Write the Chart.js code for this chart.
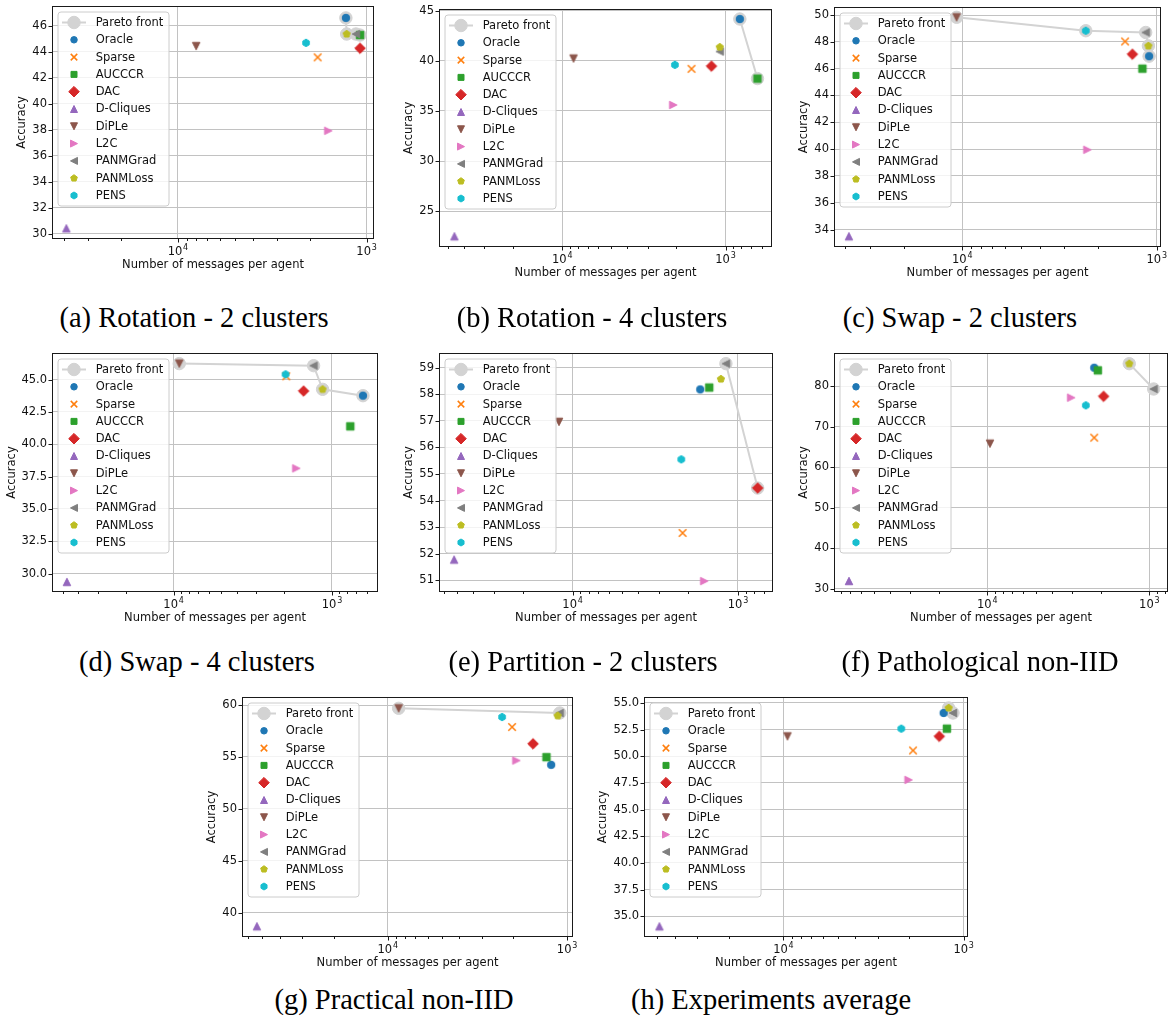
<!DOCTYPE html>
<html><head><meta charset="utf-8">
<script src="https://cdn.jsdelivr.net/npm/chart.js@4.4.0/dist/chart.umd.min.js"></script>
<style>
html,body{margin:0;padding:0;width:1174px;height:1025px;overflow:hidden;background:#fff;}
canvas{position:absolute;}
.cap{position:absolute;font-family:"Liberation Serif","Times New Roman",serif;font-size:28.5px;line-height:1;color:#000;white-space:nowrap;transform:translate(-50%,-50%);}
</style></head><body>
<script>
// ---------------- DATA ----------------
const methods = ['Oracle','Sparse','AUCCCR','DAC','D-Cliques','DiPLe','L2C','PANMGrad','PANMLoss','PENS'];
const captions = ['(a) Rotation - 2 clusters','(b) Rotation - 4 clusters','(c) Swap - 2 clusters','(d) Swap - 4 clusters',
  '(e) Partition - 2 clusters','(f) Pathological non-IID','(g) Practical non-IID','(h) Experiments average'];
const xTitle = 'Number of messages per agent';
const yTitle = 'Accuracy';
const paretoLabel = 'Pareto front';

// messages per agent (method order as in `methods`)
const msgA = [1288, 1817, 1084, 1084, 39000, 8000, 1596, 1140, 1276, 2094];
const accA = [46.62, 43.58, 45.30, 44.28, 30.40, 44.45, 37.92, 45.38, 45.38, 44.70];
const paretoA = ['Oracle','PANMLoss','PANMGrad','AUCCCR'];

const msgB = [817, 1615, 637, 1219, 45800, 8530, 2090, 1084, 1084, 2042];
const accB = [44.17, 39.20, 38.23, 39.47, 22.50, 40.23, 35.60, 40.93, 41.37, 39.60];
const paretoB = ['Oracle','AUCCCR'];

const msgC = [1095, 1455, 1185, 1334, 38300, 10700, 2275, 1140, 1104, 2317];
const accC = [46.93, 48.03, 46.00, 47.08, 33.50, 49.83, 39.95, 48.70, 47.70, 48.83];
const paretoC = ['DiPLe','PENS','PANMGrad','PANMLoss','Oracle'];

const msgD = [637, 1943, 766, 1510, 47200, 9210, 1680, 1306, 1146, 1963];
const accD = [43.76, 45.26, 41.39, 44.12, 29.36, 46.24, 38.14, 46.08, 44.25, 45.41];
const paretoD = ['DiPLe','PANMGrad','PANMLoss','Oracle'];

const msgE = [1692, 2163, 1492, 760, 52100, 12100, 1600, 1183, 1268, 2203];
const accE = [58.18, 52.78, 58.25, 54.47, 51.78, 56.96, 50.97, 59.15, 58.57, 55.55];
const paretoE = ['PANMGrad','DAC'];

const msgF = [2188, 2188, 2078, 1915, 71400, 9630, 3036, 940, 1330, 2465];
const accF = [84.50, 67.27, 83.86, 77.45, 31.97, 65.80, 77.13, 79.26, 85.50, 75.24];
const paretoF = ['PANMLoss','PANMGrad'];

const msgG = [1227, 2026, 1303, 1549, 53600, 8690, 1918, 1099, 1128, 2303];
const accG = [54.24, 57.88, 54.98, 56.27, 38.71, 59.68, 54.66, 59.23, 58.97, 58.84];
const paretoG = ['DiPLe','PANMGrad'];

const msgH = [1291, 1910, 1239, 1365, 48800, 9500, 2022, 1146, 1211, 2218];
const accH = [54.06, 50.55, 52.59, 51.87, 34.06, 51.87, 47.79, 54.06, 54.53, 52.59];
const paretoH = ['PANMLoss','PANMGrad'];

// tick values / labels
const xTickValues = [200,300,400,500,600,700,800,900,1000,2000,3000,4000,5000,6000,7000,8000,9000,
  10000,20000,30000,40000,50000,60000,70000,80000,90000];
const xMajorValues = [1000, 10000];
const xMajorBase = ['10', '10'];
const xMajorExp = ['3', '4'];
const yTicksA = [30,32,34,36,38,40,42,44,46];
const yTicksB = [25,30,35,40,45];
const yTicksC = [34,36,38,40,42,44,46,48,50];
const yTicksD = [30,32.5,35,37.5,40,42.5,45];
const yTicksE = [51,52,53,54,55,56,57,58,59];
const yTicksF = [30,40,50,60,70,80];
const yTicksG = [40,45,50,55,60];
const yTicksH = [35,37.5,40,42.5,45,47.5,50,52.5,55];

// ---------------- STYLE / LAYOUT ----------------
const markerShapes = ['o','x','s','D','^','v','>','<','p','h'];
const markerColors = ['#1f77b4','#ff7f0e','#2ca02c','#d62728','#9467bd','#8c564b','#e377c2','#7f7f7f','#bcbd22','#17becf'];
const FONT = '"DejaVu Sans", Verdana, sans-serif';
const FS = 11.5;
const GRID = '#c2c2c2';
const PARETO = '#d3d3d3';

const panels = [
  {msg: msgA, acc: accA, pareto: paretoA, yTicks: yTicksA, dec: 0, L:52, T:6, R:374, B:239, xMin:914, xMax:46450, yMin:29.58, yMax:47.54, ytp:15.1, cap:[194,318]},
  {msg: msgB, acc: accB, pareto: paretoB, yTicks: yTicksB, dec: 0, L:439, T:9, R:772, B:247, xMin:519, xMax:56900, yMin:21.43, yMax:45.17, ytp:15.1, cap:[592,318]},
  {msg: msgC, acc: accC, pareto: paretoC, yTicks: yTicksC, dec: 0, L:834, T:7, R:1161, B:247, xMin:951, xMax:45700, yMin:32.7, yMax:50.6, ytp:15.1, cap:[960,318]},
  {msg: msgD, acc: accD, pareto: paretoD, yTicks: yTicksD, dec: 1, L:52, T:353, R:378, B:592, xMin:512, xMax:58600, yMin:28.58, yMax:47.06, ytp:5.1, cap:[197,662]},
  {msg: msgE, acc: accE, pareto: paretoE, yTicks: yTicksE, dec: 0, L:439, T:353, R:773, B:592, xMin:614, xMax:64300, yMin:50.56, yMax:59.55, ytp:15.1, cap:[583,662]},
  {msg: msgF, acc: accF, pareto: paretoF, yTicks: yTicksF, dec: 0, L:834, T:353, R:1168, B:592, xMin:767, xMax:88300, yMin:29.26, yMax:88.13, ytp:15.1, cap:[980,662]},
  {msg: msgG, acc: accG, pareto: paretoG, yTicks: yTicksG, dec: 0, L:242, T:697, R:573, B:937, xMin:927, xMax:64900, yMin:37.68, yMax:60.77, ytp:15.1, cap:[394,1000]},
  {msg: msgH, acc: accH, pareto: paretoH, yTicks: yTicksH, dec: 1, L:644, T:697, R:968, B:937, xMin:946, xMax:59400, yMin:33.06, yMax:55.56, ytp:3.9, cap:[771,1000]}
];

// ---------------- MARKERS ----------------
function markerPath(ctx, shape, cx, cy, ms) {
  const h = ms / 2;
  ctx.beginPath();
  const poly = (n) => { for (let k = 0; k < n; k++) { const a = -Math.PI/2 + k * 2 * Math.PI / n; const px = cx + h * Math.cos(a), py = cy + h * Math.sin(a); if (k) ctx.lineTo(px, py); else ctx.moveTo(px, py); } ctx.closePath(); };
  switch (shape) {
    case 'o': ctx.arc(cx, cy, h, 0, Math.PI * 2); break;
    case 's': ctx.rect(cx - h, cy - h, ms, ms); break;
    case 'D': { const d = h * Math.SQRT2; ctx.moveTo(cx, cy - d); ctx.lineTo(cx + d, cy); ctx.lineTo(cx, cy + d); ctx.lineTo(cx - d, cy); ctx.closePath(); break; }
    case '^': ctx.moveTo(cx, cy - h); ctx.lineTo(cx + h, cy + h); ctx.lineTo(cx - h, cy + h); ctx.closePath(); break;
    case 'v': ctx.moveTo(cx, cy + h); ctx.lineTo(cx + h, cy - h); ctx.lineTo(cx - h, cy - h); ctx.closePath(); break;
    case '>': ctx.moveTo(cx + h, cy); ctx.lineTo(cx - h, cy - h); ctx.lineTo(cx - h, cy + h); ctx.closePath(); break;
    case '<': ctx.moveTo(cx - h, cy); ctx.lineTo(cx + h, cy - h); ctx.lineTo(cx + h, cy + h); ctx.closePath(); break;
    case 'p': poly(5); break;
    case 'h': poly(6); break;
    case 'x': ctx.moveTo(cx - h, cy - h); ctx.lineTo(cx + h, cy + h); ctx.moveTo(cx + h, cy - h); ctx.lineTo(cx - h, cy + h); break;
  }
}
function drawMarker(ctx, shape, cx, cy, ms, color) {
  ctx.save();
  markerPath(ctx, shape, cx, cy, ms);
  if (shape === 'x') { ctx.strokeStyle = color; ctx.lineWidth = 1.5; ctx.stroke(); }
  else { ctx.fillStyle = color; ctx.fill(); ctx.strokeStyle = color; ctx.lineWidth = 1; ctx.stroke(); }
  ctx.restore();
}
function makeMarker(shape, ms, color) {
  const size = 20;
  const c = document.createElement('canvas'); c.width = size; c.height = size;
  drawMarker(c.getContext('2d'), shape, size / 2, size / 2, ms, color);
  return c;
}
const DATA_MS = 7.5;
const LEG_MS = [6.5, 6.5, 6, 7.5, 7, 7, 7, 7, 7, 7];
const dataMarkers = markerShapes.map((s, i) => makeMarker(s, DATA_MS, markerColors[i]));

// ---------------- PLUGINS ----------------
const framePlugin = {
  id: 'frame',
  afterDatasetsDraw(chart) {
    const {ctx, chartArea: a} = chart;
    const x = chart.scales.x, y = chart.scales.y;
    ctx.save();
    ctx.strokeStyle = '#1a1a1a'; ctx.lineWidth = 1;
    ctx.beginPath();
    y.ticks.forEach(t => { const py = Math.round(y.getPixelForValue(t.value)) + 0.5; ctx.moveTo(a.left - 3.5, py); ctx.lineTo(a.left, py); });
    x.ticks.forEach(t => { const px = Math.round(x.getPixelForValue(t.value)) + 0.5; ctx.moveTo(px, a.bottom); ctx.lineTo(px, a.bottom + (t.major ? 3.5 : 2)); });
    ctx.stroke();
    ctx.strokeRect(a.left + 0.5, a.top + 0.5, a.right - a.left - 1, a.bottom - a.top - 1);
    // power-of-ten tick labels with superscript exponent
    ctx.fillStyle = '#111'; ctx.textBaseline = 'alphabetic'; ctx.textAlign = 'left';
    x.ticks.forEach(t => {
      const k = xMajorValues.indexOf(t.value);
      if (k < 0) return;
      const px = x.getPixelForValue(t.value);
      ctx.font = FS + 'px ' + FONT;
      const wb = ctx.measureText(xMajorBase[k]).width;
      ctx.font = '8px ' + FONT;
      const we = ctx.measureText(xMajorExp[k]).width;
      const start = px - (wb + we + 0.8) / 2;
      const base = a.bottom + 15.8;
      ctx.font = FS + 'px ' + FONT;
      ctx.fillText(xMajorBase[k], start, base);
      ctx.font = '8px ' + FONT;
      ctx.fillText(xMajorExp[k], start + wb + 0.8, base - 5.2);
    });
    ctx.restore();
  }
};
const legendPlugin = {
  id: 'mplLegend',
  afterDraw(chart) {
    const {ctx, chartArea: a} = chart;
    const bx = a.left + 6, by = a.top + 6, bw = 111, bh = 194, r = 3;
    ctx.save();
    ctx.beginPath();
    ctx.moveTo(bx + r, by); ctx.lineTo(bx + bw - r, by); ctx.arcTo(bx + bw, by, bx + bw, by + r, r);
    ctx.lineTo(bx + bw, by + bh - r); ctx.arcTo(bx + bw, by + bh, bx + bw - r, by + bh, r);
    ctx.lineTo(bx + r, by + bh); ctx.arcTo(bx, by + bh, bx, by + bh - r, r);
    ctx.lineTo(bx, by + r); ctx.arcTo(bx, by, bx + r, by, r); ctx.closePath();
    ctx.fillStyle = 'rgba(255,255,255,0.8)'; ctx.fill();
    ctx.strokeStyle = '#cccccc'; ctx.lineWidth = 1; ctx.stroke();
    const labels = [paretoLabel].concat(methods);
    ctx.font = FS + 'px ' + FONT; ctx.fillStyle = '#111'; ctx.textBaseline = 'middle'; ctx.textAlign = 'left';
    labels.forEach((lab, i) => {
      const ry = by + 10.5 + i * 17.3;
      const mx = bx + 16;
      if (i === 0) {
        ctx.strokeStyle = PARETO; ctx.lineWidth = 2;
        ctx.beginPath(); ctx.moveTo(bx + 4, ry); ctx.lineTo(bx + 28, ry); ctx.stroke();
        drawMarker(ctx, 'o', mx, ry, 12.5, PARETO);
      } else {
        drawMarker(ctx, markerShapes[i - 1], mx, ry, LEG_MS[i - 1], markerColors[i - 1]);
      }
      ctx.fillStyle = '#111';
      ctx.fillText(lab, bx + 37.7, ry + 0.5);
    });
    ctx.restore();
  }
};

// ---------------- BUILD ----------------
const PAD_T = 14, PAD_R = 14, YW = 52, XH = 40;
panels.forEach((p, pi) => {
  const cv = document.createElement('canvas');
  const w = (p.R - p.L) + YW + PAD_R, h = (p.B - p.T) + PAD_T + XH;
  cv.width = w; cv.height = h;
  cv.style.left = (p.L - YW) + 'px'; cv.style.top = (p.T - PAD_T) + 'px';
  cv.style.width = w + 'px'; cv.style.height = h + 'px';
  document.body.appendChild(cv);

  const cap = document.createElement('div');
  cap.className = 'cap'; cap.textContent = captions[pi];
  cap.style.left = p.cap[0] + 'px'; cap.style.top = p.cap[1] + 'px';
  document.body.appendChild(cap);

  const pts = methods.map((m, i) => ({x: p.msg[i], y: p.acc[i]}));
  const paretoPts = p.pareto.map(name => pts[methods.indexOf(name)]);
  const datasets = [{
    label: paretoLabel, data: paretoPts, showLine: true, borderColor: PARETO, borderWidth: 2,
    pointRadius: 6.2, pointBackgroundColor: PARETO, pointBorderColor: PARETO, pointBorderWidth: 1, order: 50
  }].concat(methods.map((m, i) => ({
    label: m, data: [pts[i]], pointStyle: dataMarkers[i], pointRadius: 4, order: 20 - i
  })));

  new Chart(cv, {
    type: 'scatter',
    data: {datasets},
    options: {
      animation: false, responsive: false, events: [],
      layout: {padding: {top: PAD_T, right: PAD_R, bottom: 0, left: 0}},
      plugins: {legend: {display: false}, tooltip: {enabled: false}},
      scales: {
        x: {
          type: 'logarithmic', reverse: true, min: p.xMin, max: p.xMax,
          afterBuildTicks: s => { s.ticks = xTickValues.filter(v => v > p.xMin && v < p.xMax).map(v => ({value: v, major: xMajorValues.includes(v)})); },
          afterFit: s => { s.height = XH; },
          border: {display: false},
          grid: {drawTicks: false, lineWidth: 1, color: c => (c.tick && c.tick.major) ? GRID : 'rgba(0,0,0,0)'},
          ticks: {autoSkip: false, maxRotation: 0, minRotation: 0, padding: 5, color: '#111', font: {family: FONT, size: FS},
            callback: () => ''},
          title: {display: true, text: xTitle, color: '#111', font: {family: FONT, size: FS}, padding: {top: 0, bottom: 6.8}}
        },
        y: {
          type: 'linear', min: p.yMin, max: p.yMax,
          afterBuildTicks: s => { s.ticks = p.yTicks.map(v => ({value: v})); },
          afterFit: s => { s.width = YW; },
          border: {display: false},
          grid: {drawTicks: false, lineWidth: 1, color: GRID},
          ticks: {padding: 5, color: '#111', font: {family: FONT, size: FS}, callback: v => Number(v).toFixed(p.dec)},
          title: {display: true, text: yTitle, color: '#111', font: {family: FONT, size: FS}, padding: {top: p.ytp, bottom: 0}}
        }
      }
    },
    plugins: [framePlugin, legendPlugin]
  });
});
</script>
</body></html>
